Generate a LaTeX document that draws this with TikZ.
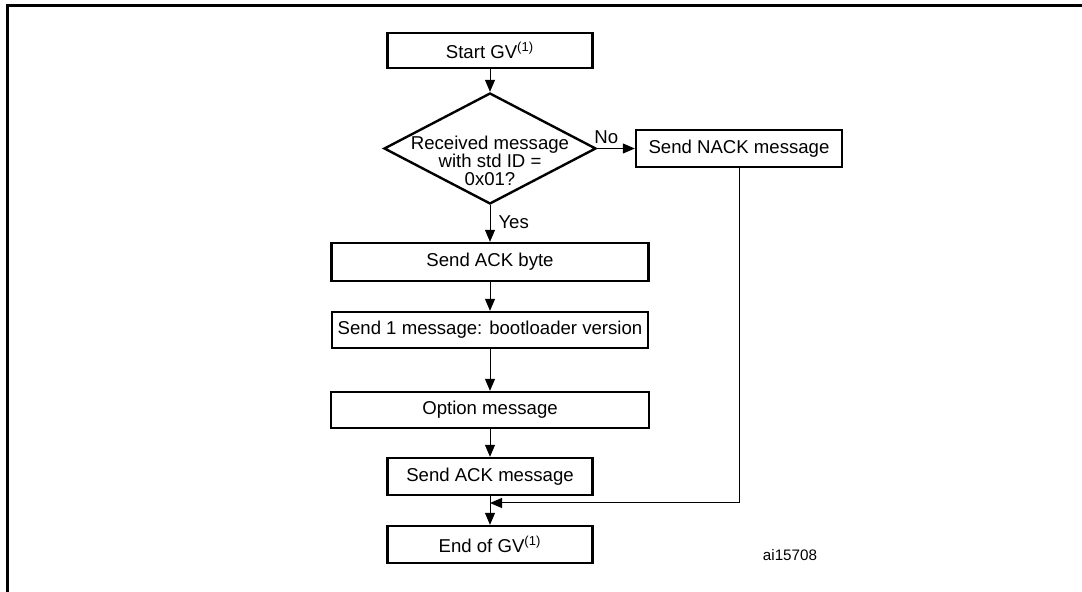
\documentclass[tikz,border=0pt]{standalone}
\usepackage{fontspec}
\setmainfont{Liberation Sans}
\usetikzlibrary{arrows.meta,shapes.geometric}
\tikzset{
	stepbox/.style={
			draw, rectangle, line width=1.2pt, inner sep=0pt,
			font=\fontsize{9.3pt}{9pt}\selectfont
		},
	decision/.style={
			draw, diamond, line width=1.2pt, inner sep=0pt,
			minimum width=106pt, minimum height=55.5pt
		},
	flow/.style={line width=0.5pt, -{Triangle[length=6pt,width=5pt]}},
	lbl/.style={inner sep=0pt, font=\fontsize{9.3pt}{9pt}\selectfont}
}

\begin{document}
\begin{tikzpicture}[x=0.5pt,y=-0.5pt]
        \useasboundingbox (0,0) rectangle (1082,592);
        \draw[line width=1.5pt] (7.5,592) -- (7.5,6) -- (1082,6);

        \node[stepbox, minimum width=102.5pt, minimum height=17.5pt] (start) at (490,50.5) {Start GV\textsuperscript{(1)}};
        \node[decision, label={[lbl, align=center, yshift=-6pt]center:{Received message\\with std ID =\\0x01?}}] (recv) at (490,148.5) {};
        \node[stepbox, minimum width=103pt, minimum height=18.5pt] (nack) at (739,148.5) {Send NACK message};
        \node[stepbox, minimum width=158.5pt, minimum height=19pt] (ackbyte) at (490,262) {Send ACK byte};
        \node[stepbox, minimum width=158pt, minimum height=18pt] (ver) at (490,330) {Send 1 message: bootloader version};
        \node[stepbox, minimum width=159pt, minimum height=18pt] (opt) at (490,410) {Option message};
        \node[stepbox, minimum width=102.5pt, minimum height=18.5pt] (ackmsg) at (490,476.5) {Send ACK message};
        \node[stepbox, minimum width=102.5pt, minimum height=18.5pt] (endgv) at (490,544.5) {End of GV\textsuperscript{(1)}};
        \coordinate (join) at (490,503);

        \draw[flow] (start) -- (recv);
        \draw[flow] (recv) -- (nack) node[lbl, pos=0.24, above=2pt] {No};
        \draw[flow] (recv) -- (ackbyte) node[lbl, pos=0.46, right=4pt] {Yes};
        \draw[flow] (ackbyte) -- (ver);
        \draw[flow] (ver) -- (opt);
        \draw[flow] (opt) -- (ackmsg);
        \draw[flow] (ackmsg) -- (endgv);
        \draw[flow] (nack) |- (join);

        \node[lbl, font=\fontsize{7.6pt}{9pt}\selectfont] (code) at (790,555) {ai15708};
    \end{tikzpicture}
\end{document}
